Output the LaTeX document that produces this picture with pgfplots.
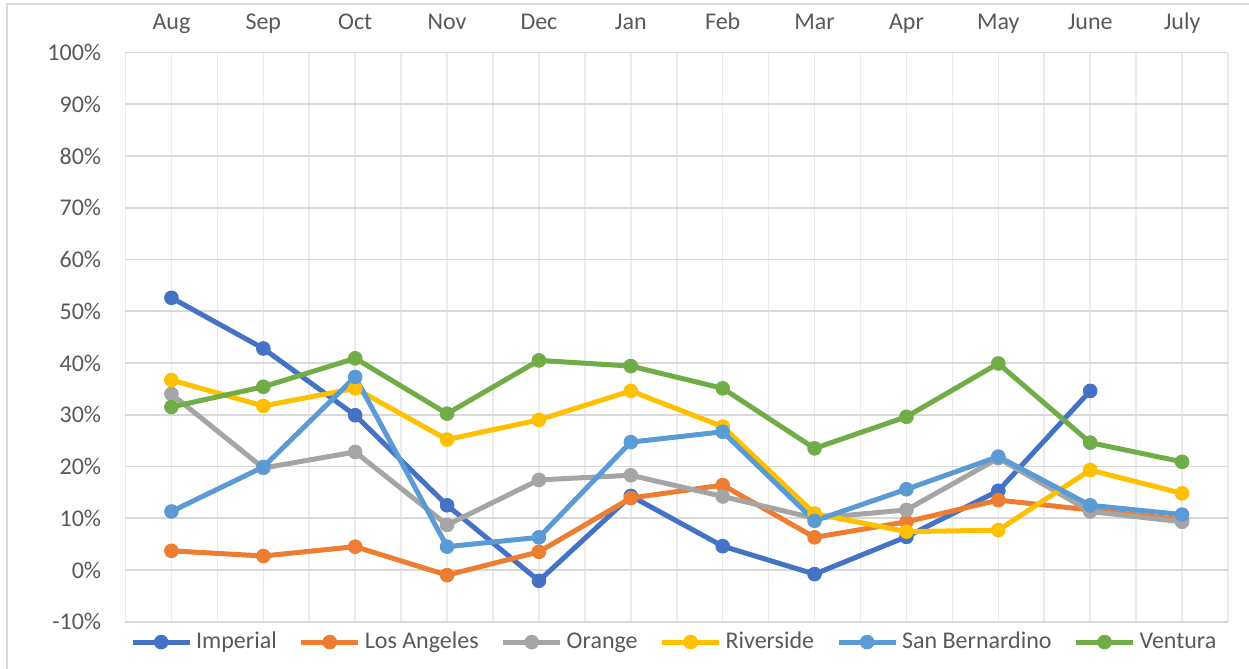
\documentclass[border=0pt]{standalone}
\usepackage{fontspec}
\setmainfont{Carlito}
\usepackage{pgfplots}
\pgfplotsset{compat=1.18}

\definecolor{cImp}{HTML}{4472C4}
\definecolor{cLA}{HTML}{ED7D31}
\definecolor{cOra}{HTML}{A5A5A5}
\definecolor{cRiv}{HTML}{FFC000}
\definecolor{cSB}{HTML}{5B9BD5}
\definecolor{cVen}{HTML}{70AD47}
\definecolor{txtgray}{HTML}{595959}
\definecolor{hgrid}{HTML}{D9D9D9}
\definecolor{vgrid}{HTML}{EBEBEB}

\begin{document}
\begin{tikzpicture}
\path[use as bounding box] (0,0) rectangle (624.5pt,-334.5pt);
% outer chart frame (only left and top edges are visible)
\draw[color=hgrid, line width=0.8pt] (3.4pt,-334.5pt) -- (3.4pt,-2pt) -- (624.5pt,-2pt);
\begin{axis}[
  at={(62.75pt,-310.85pt)}, anchor=south west,
  scale only axis, width=551.25pt, height=284.6pt,
  xmin=-0.5, xmax=11.5, ymin=-10, ymax=100,
  xtick={0,...,11},
  xticklabels={Aug,Sep,Oct,Nov,Dec,Jan,Feb,Mar,Apr,May,June,July},
  minor xtick={-0.5,0.5,...,11.5},
  ytick={-10,0,10,20,30,40,50,60,70,80,90,100},
  yticklabels={-10\%,0\%,10\%,20\%,30\%,40\%,50\%,60\%,70\%,80\%,90\%,100\%},
  xticklabel pos=upper,
  major tick length=0pt, minor tick length=0pt,
  axis line style={draw=none},
  xmajorgrids, xminorgrids, ymajorgrids,
  major x grid style={color=vgrid, line width=0.8pt},
  minor x grid style={color=vgrid, line width=0.8pt},
  major y grid style={color=hgrid, line width=0.8pt},
  tick label style={font=\fontsize{12}{14}\selectfont, text=txtgray},
  xticklabel style={anchor=base, inner sep=0pt, yshift=11.25pt},
  yticklabel style={anchor=east, inner sep=0pt, xshift=-12pt},
  every axis plot/.append style={line width=2.5pt, line join=round, mark=*, mark size=3.4pt, mark options={solid, line width=0.5pt}},
  legend columns=6,
  legend style={at={(0.5,0)}, anchor=center, yshift=-10.2pt, xshift=-0.75pt, draw=none, fill=none,
    font=\fontsize{12}{14}\selectfont, text=txtgray,
    /tikz/every even column/.append style={column sep=9pt}},
  legend image code/.code={\draw[#1, mark repeat=2, mark phase=2] plot coordinates {(0pt,0pt) (14.25pt,0pt) (28.5pt,0pt)};},
]
\addplot[color=cImp] coordinates {
(0,52.6) (1,42.8) (2,29.9) (3,12.5) (4,-2.1) (5,14.3) (6,4.6) (7,-0.8) (8,6.4) (9,15.3) (10,34.6)
};
\addlegendentry{Imperial}
\addplot[color=cLA] coordinates {
(0,3.7) (1,2.7) (2,4.5) (3,-1.0) (4,3.5) (5,13.9) (6,16.4) (7,6.3) (8,9.3) (9,13.5) (10,11.6) (11,9.7)
};
\addlegendentry{Los Angeles}
\addplot[color=cOra] coordinates {
(0,34.0) (1,19.7) (2,22.8) (3,8.7) (4,17.4) (5,18.3) (6,14.2) (7,10.0) (8,11.6) (9,21.6) (10,11.3) (11,9.3)
};
\addlegendentry{Orange}
\addplot[color=cRiv] coordinates {
(0,36.7) (1,31.7) (2,35.1) (3,25.2) (4,29.0) (5,34.6) (6,27.7) (7,10.9) (8,7.4) (9,7.7) (10,19.3) (11,14.8)
};
\addlegendentry{Riverside}
\addplot[color=cSB] coordinates {
(0,11.3) (1,19.9) (2,37.3) (3,4.5) (4,6.3) (5,24.7) (6,26.7) (7,9.5) (8,15.6) (9,21.9) (10,12.5) (11,10.7)
};
\addlegendentry{San Bernardino}
\addplot[color=cVen] coordinates {
(0,31.5) (1,35.4) (2,40.9) (3,30.2) (4,40.5) (5,39.4) (6,35.1) (7,23.5) (8,29.6) (9,39.9) (10,24.6) (11,20.9)
};
\addlegendentry{Ventura}
\end{axis}
\end{tikzpicture}
\end{document}
